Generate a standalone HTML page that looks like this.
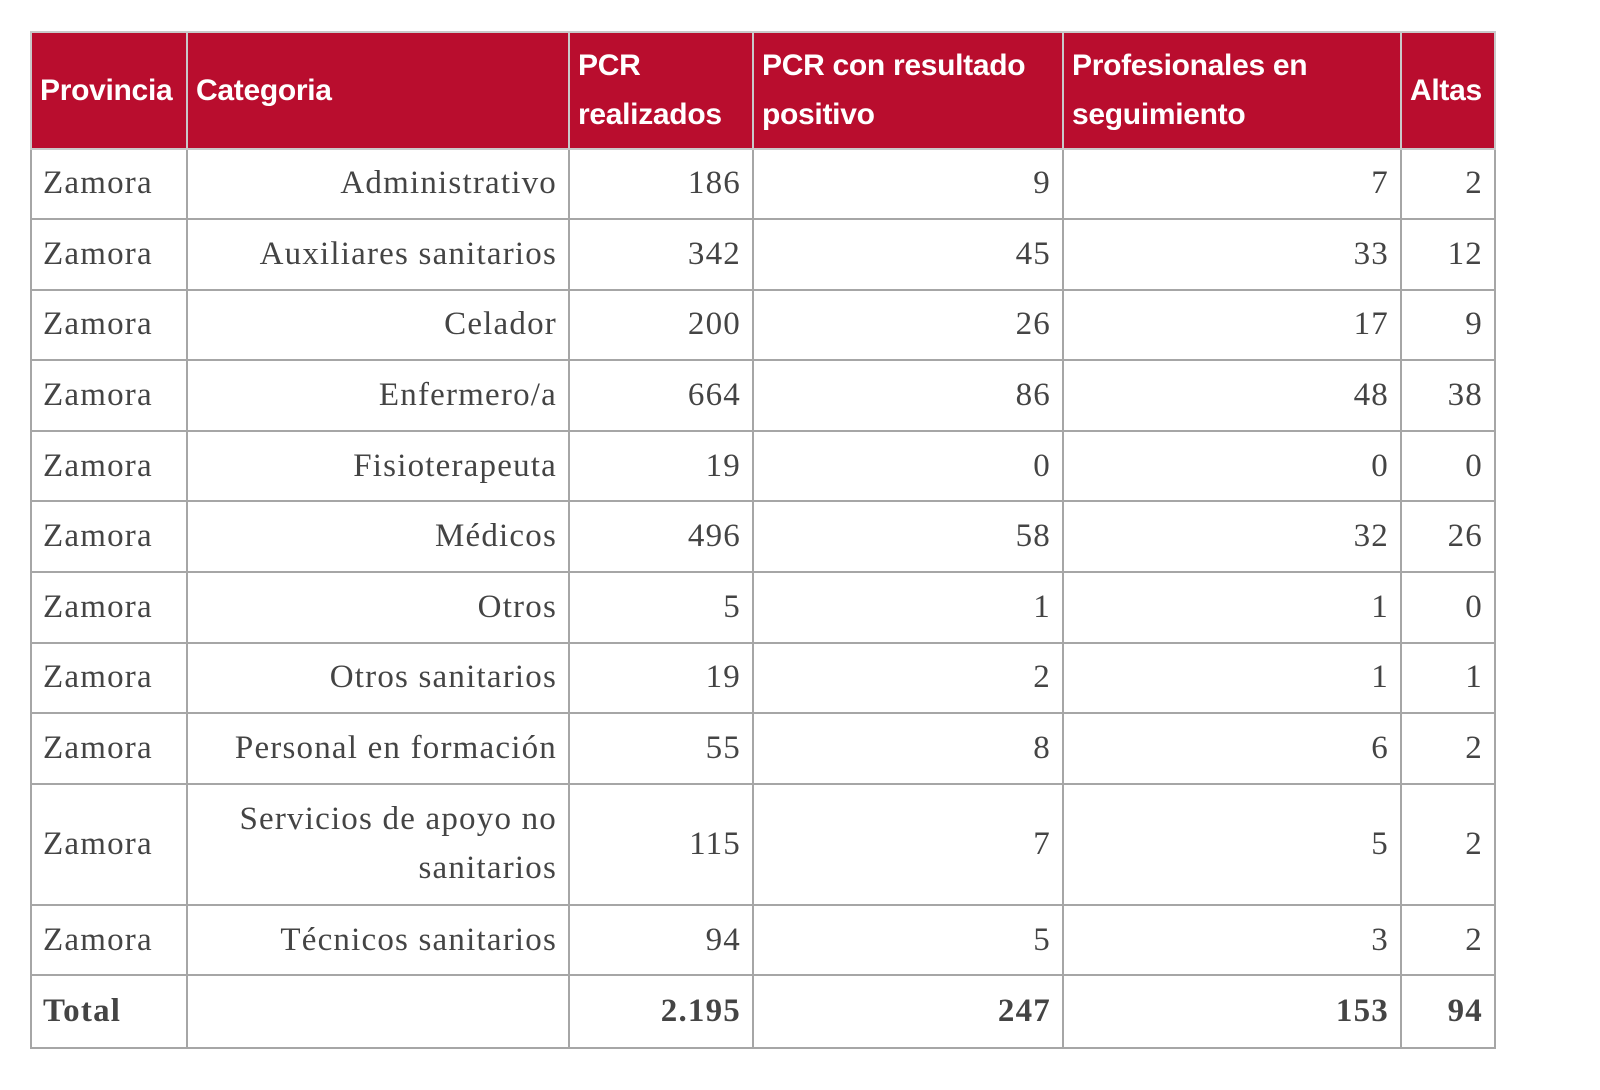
<!DOCTYPE html>
<html><head><meta charset="utf-8"><style>
html,body{margin:0;padding:0;background:#fff;width:1600px;height:1090px;overflow:hidden}
table{position:absolute;left:30px;top:31px;border-collapse:collapse;table-layout:fixed;width:1464px}
td,th{border:2px solid #a6a6a6;padding:0 11px;font-family:"Liberation Serif",serif;font-size:33px;color:#444;letter-spacing:1.2px;text-align:right;line-height:49px}
th{background:#b90d2e;color:#fff;font-family:"Liberation Sans",sans-serif;font-weight:bold;font-size:30px;text-align:left;letter-spacing:-0.3px;border-color:#c9c9c9;padding:0 8px;height:114.5px}
tr.r td{height:68.6px}
tr.t td{height:70.5px;font-weight:bold}
td.l{text-align:left}
</style></head><body>
<table>
<colgroup><col style="width:156px"><col style="width:382px"><col style="width:184px"><col style="width:310px"><col style="width:338px"><col style="width:94px"></colgroup>
<thead><tr>
<th>Provincia</th>
<th>Categoria</th>
<th>PCR<br>realizados</th>
<th>PCR con resultado<br>positivo</th>
<th>Profesionales en<br>seguimiento</th>
<th>Altas</th>
</tr></thead>
<tbody>
<tr class="r"><td class="l">Zamora</td><td>Administrativo</td><td>186</td><td>9</td><td>7</td><td>2</td></tr>
<tr class="r"><td class="l">Zamora</td><td>Auxiliares sanitarios</td><td>342</td><td>45</td><td>33</td><td>12</td></tr>
<tr class="r"><td class="l">Zamora</td><td>Celador</td><td>200</td><td>26</td><td>17</td><td>9</td></tr>
<tr class="r"><td class="l">Zamora</td><td>Enfermero/a</td><td>664</td><td>86</td><td>48</td><td>38</td></tr>
<tr class="r"><td class="l">Zamora</td><td>Fisioterapeuta</td><td>19</td><td>0</td><td>0</td><td>0</td></tr>
<tr class="r"><td class="l">Zamora</td><td>Médicos</td><td>496</td><td>58</td><td>32</td><td>26</td></tr>
<tr class="r"><td class="l">Zamora</td><td>Otros</td><td>5</td><td>1</td><td>1</td><td>0</td></tr>
<tr class="r"><td class="l">Zamora</td><td>Otros sanitarios</td><td>19</td><td>2</td><td>1</td><td>1</td></tr>
<tr class="r"><td class="l">Zamora</td><td>Personal en formación</td><td>55</td><td>8</td><td>6</td><td>2</td></tr>
<tr class="r"><td class="l" style="height:119px">Zamora</td><td>Servicios de apoyo no<br>sanitarios</td><td>115</td><td>7</td><td>5</td><td>2</td></tr>
<tr class="r"><td class="l">Zamora</td><td>Técnicos sanitarios</td><td>94</td><td>5</td><td>3</td><td>2</td></tr>
<tr class="t"><td class="l">Total</td><td></td><td>2.195</td><td>247</td><td>153</td><td>94</td></tr>
</tbody></table>
</body></html>
